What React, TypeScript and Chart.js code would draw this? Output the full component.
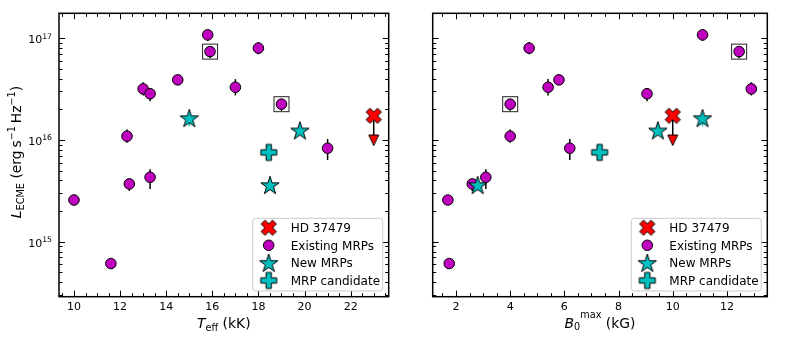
import React, { useEffect, useRef } from "react";
import { Chart, registerables } from "chart.js";

Chart.register(...registerables);

// ---------- data ----------
const TEFF_TICKS = [10, 12, 14, 16, 18, 20, 22];
const B_TICKS = [2, 4, 6, 8, 10, 12];
const LOG_DECADES = [15, 16, 17];

const EXIST_TEFF = [15.8, 15.9, 18.0, 13.0, 13.3, 14.5, 17.0, 19.0, 12.3, 21.0, 13.3, 12.4, 10.0, 11.6];
const EXIST_B = [11.1, 12.45, 4.7, 12.9, 9.05, 5.8, 5.4, 4.0, 4.0, 6.2, 3.1, 2.6, 1.7, 1.75];
const EXIST_L = [1.08e17, 7.4e16, 8.0e16, 3.18e16, 2.85e16, 3.9e16, 3.3e16, 2.25e16, 1.09e16, 8.3e15, 4.3e15, 3.7e15, 2.57e15, 6.1e14];
const EXIST_ERR_LO = [0.06, 0.065, 0.06, 0.065, 0.075, 0.03, 0.08, 0.065, 0.065, 0.115, 0.115, 0.07, 0, 0];
const EXIST_ERR_HI = [0.05, 0.05, 0.06, 0.065, 0.05, 0.03, 0.08, 0.05, 0.065, 0.09, 0.08, 0.05, 0, 0];
const BOXED = [1, 7];

const NEW_TEFF = [15.0, 19.8, 18.5];
const NEW_B = [11.1, 9.45, 2.8];
const NEW_L = [1.64e16, 1.24e16, 3.6e15];
const NEW_ERR_LO = [0.08, 0, 0];

const CAND_TEFF = [18.45];
const CAND_B = [7.3];
const CAND_L = [7.55e15];

const HD_TEFF = [23.0];
const HD_B = [10.0];
const HD_L = [1.73e16];
const HD_LIMIT = [1.0e16];

const LEGEND_LABELS = ["HD 37479", "Existing MRPs", "New MRPs", "MRP candidate"];

const Y_MIN = 2.88e14;
const Y_MAX = 1.76e17;

// ---------- styles ----------
const MAGENTA = "#bf00bf";
const CYAN = "#00bfbf";
const RED = "#ff0000";
const FONT = '"DejaVu Sans", sans-serif';

function mk(size: number, draw: (c: CanvasRenderingContext2D, m: number) => void) {
  const cv = document.createElement("canvas");
  cv.width = size;
  cv.height = size;
  const c = cv.getContext("2d")!;
  draw(c, size / 2);
  return cv;
}

function poly(c: CanvasRenderingContext2D, pts: number[][], m: number, s: number) {
  c.beginPath();
  pts.forEach((p, i) => {
    const x = m + p[0] * s;
    const y = m - p[1] * s;
    if (i === 0) c.moveTo(x, y);
    else c.lineTo(x, y);
  });
  c.closePath();
}

const starImg = mk(26, (c, m) => {
  const R = 9.6;
  const r = R * 0.381966;
  c.beginPath();
  for (let i = 0; i < 10; i++) {
    const a = -Math.PI / 2 + (i * Math.PI) / 5;
    const rr = i % 2 ? r : R;
    c.lineTo(m + rr * Math.cos(a), m + 0.8 + rr * Math.sin(a));
  }
  c.closePath();
  c.fillStyle = CYAN;
  c.fill();
  c.lineWidth = 1;
  c.strokeStyle = "#000";
  c.stroke();
});

const plusImg = mk(22, (c, m) => {
  poly(
    c,
    [[-1, -3], [1, -3], [1, -1], [3, -1], [3, 1], [1, 1], [1, 3], [-1, 3], [-1, 1], [-3, 1], [-3, -1], [-1, -1]],
    m,
    8 / 3
  );
  c.fillStyle = CYAN;
  c.fill();
  c.lineWidth = 1;
  c.strokeStyle = "#000";
  c.stroke();
});

const xImg = mk(22, (c, m) => {
  poly(
    c,
    [[-1, -2], [0, -1], [1, -2], [2, -1], [1, 0], [2, 1], [1, 2], [0, 1], [-1, 2], [-2, 1], [-1, 0], [-2, -1]],
    m,
    7.6 / 2
  );
  c.fillStyle = RED;
  c.fill();
  c.lineWidth = 1;
  c.strokeStyle = "#000";
  c.stroke();
});

const triImg = mk(16, (c, m) => {
  c.beginPath();
  c.moveTo(m, m + 5.5);
  c.lineTo(m - 5, m - 5);
  c.lineTo(m + 5, m - 5);
  c.closePath();
  c.fillStyle = RED;
  c.fill();
  c.lineWidth = 1;
  c.strokeStyle = "#000";
  c.stroke();
});

const boxImg = mk(20, (c, m) => {
  c.lineWidth = 1;
  c.strokeStyle = "#222";
  c.strokeRect(m - 7.5, m - 7.5, 15, 15);
});

type Part = { t: string; size: number; italic?: boolean; dy: number };

function drawParts(ctx: CanvasRenderingContext2D, parts: Part[], cx: number, baseY: number) {
  const font = (p: Part) => `${p.italic ? "italic " : ""}${p.size}px ${FONT}`;
  let total = 0;
  const ws = parts.map((p) => {
    ctx.font = font(p);
    const w = ctx.measureText(p.t).width;
    total += w;
    return w;
  });
  let x = cx - total / 2;
  ctx.textAlign = "left";
  ctx.textBaseline = "alphabetic";
  parts.forEach((p, i) => {
    ctx.font = font(p);
    ctx.fillText(p.t, x, baseY + p.dy);
    x += ws[i];
  });
}

function buildConfig(panel: "teff" | "b") {
  const isT = panel === "teff";
  const xv = isT
    ? { exist: EXIST_TEFF, nw: NEW_TEFF, cand: CAND_TEFF, hd: HD_TEFF }
    : { exist: EXIST_B, nw: NEW_B, cand: CAND_B, hd: HD_B };
  const ticks = isT ? TEFF_TICKS : B_TICKS;

  const existPts = xv.exist.map((x, i) => ({ x, y: EXIST_L[i] }));
  const newPts = xv.nw.map((x, i) => ({ x, y: NEW_L[i] }));
  const candPts = xv.cand.map((x, i) => ({ x, y: CAND_L[i] }));
  const hdPts = xv.hd.map((x, i) => ({ x, y: HD_L[i] }));
  const boxPts = BOXED.map((i) => ({ x: xv.exist[i], y: EXIST_L[i] }));

  const decor = {
    id: "decor",
    beforeDatasetsDraw(chart: any) {
      const ctx = chart.ctx as CanvasRenderingContext2D;
      const xs = chart.scales.x;
      const ys = chart.scales.y;
      ctx.save();
      ctx.lineWidth = 1.5;
      ctx.strokeStyle = "#000";
      xv.exist.forEach((x, i) => {
        const lo = EXIST_ERR_LO[i];
        const hi = EXIST_ERR_HI[i];
        if (!lo && !hi) return;
        const px = xs.getPixelForValue(x);
        ctx.beginPath();
        ctx.moveTo(px, ys.getPixelForValue(EXIST_L[i] * Math.pow(10, -lo)));
        ctx.lineTo(px, ys.getPixelForValue(EXIST_L[i] * Math.pow(10, hi)));
        ctx.stroke();
      });
      ctx.strokeStyle = CYAN;
      xv.nw.forEach((x, i) => {
        const lo = NEW_ERR_LO[i];
        if (!lo) return;
        const px = xs.getPixelForValue(x);
        ctx.beginPath();
        ctx.moveTo(px, ys.getPixelForValue(NEW_L[i] * Math.pow(10, -lo)));
        ctx.lineTo(px, ys.getPixelForValue(NEW_L[i]));
        ctx.stroke();
      });
      ctx.strokeStyle = "#000";
      xv.hd.forEach((x, i) => {
        const px = xs.getPixelForValue(x);
        const y0 = ys.getPixelForValue(HD_L[i]);
        const y1 = ys.getPixelForValue(HD_LIMIT[i]);
        ctx.beginPath();
        ctx.moveTo(px, y0);
        ctx.lineTo(px, y1);
        ctx.stroke();
        ctx.drawImage(triImg, px - triImg.width / 2, y1 - triImg.height / 2);
      });
      ctx.restore();
    },
    afterDraw(chart: any) {
      const ctx = chart.ctx as CanvasRenderingContext2D;
      const { left, right, top, bottom } = chart.chartArea;
      const xs = chart.scales.x;
      const ys = chart.scales.y;
      ctx.save();
      ctx.strokeStyle = "#000";
      ctx.lineWidth = 1;
      const majorSet = new Set(ticks);
      for (let k = Math.ceil(xs.min * 2); k <= Math.floor(xs.max * 2); k++) {
        const v = k / 2;
        const major = majorSet.has(v);
        const len = major ? 6 : 3.5;
        const px = Math.round(xs.getPixelForValue(v)) + 0.5;
        ctx.beginPath();
        ctx.moveTo(px, bottom);
        ctx.lineTo(px, bottom - len);
        ctx.moveTo(px, top);
        ctx.lineTo(px, top + len);
        ctx.stroke();
      }
      for (let d = 14; d <= 17; d++) {
        for (let m = 1; m <= 9; m++) {
          const v = m * Math.pow(10, d);
          if (v < ys.min || v > ys.max) continue;
          const len = m === 1 ? 6 : 3.5;
          const py = Math.round(ys.getPixelForValue(v)) + 0.5;
          ctx.beginPath();
          ctx.moveTo(left, py);
          ctx.lineTo(left + len, py);
          ctx.moveTo(right, py);
          ctx.lineTo(right - len, py);
          ctx.stroke();
        }
      }
      ctx.lineWidth = 1.5;
      ctx.strokeRect(left, top, right - left, bottom - top);

      ctx.fillStyle = "#000";
      ctx.font = `11px ${FONT}`;
      ctx.textAlign = "center";
      ctx.textBaseline = "alphabetic";
      ticks.forEach((v) => {
        ctx.fillText(String(v), xs.getPixelForValue(v), bottom + 13.3);
      });

      if (isT) {
        LOG_DECADES.forEach((d) => {
          const py = ys.getPixelForValue(Math.pow(10, d));
          ctx.font = `11px ${FONT}`;
          const w10 = ctx.measureText("10").width;
          ctx.font = `7.7px ${FONT}`;
          const ws = ctx.measureText(String(d)).width;
          const x0 = left - 7 - w10 - ws;
          ctx.textAlign = "left";
          ctx.font = `11px ${FONT}`;
          ctx.fillText("10", x0, py + 5);
          ctx.font = `7.7px ${FONT}`;
          ctx.fillText(String(d), x0 + w10, py + 0.5);
        });
        drawParts(
          ctx,
          [
            { t: "T", size: 13.9, italic: true, dy: 0 },
            { t: "eff", size: 9.7, dy: 3 },
            { t: " (kK)", size: 13.9, dy: 0 },
          ],
          (left + right) / 2,
          bottom + 30.8
        );
        ctx.save();
        ctx.translate(20.5, 152);
        ctx.rotate(-Math.PI / 2);
        drawParts(
          ctx,
          [
            { t: "L", size: 13.9, italic: true, dy: 0 },
            { t: "ECME", size: 9.7, dy: 3 },
            { t: " (erg\u2009s", size: 13.9, dy: 0 },
            { t: "\u22121", size: 9.7, dy: -5.5 },
            { t: "\u2009Hz", size: 13.9, dy: 0 },
            { t: "\u22121", size: 9.7, dy: -5.5 },
            { t: ")", size: 13.9, dy: 0 },
          ],
          0,
          0
        );
        ctx.restore();
      } else {
        drawParts(
          ctx,
          [
            { t: "B", size: 13.9, italic: true, dy: 0 },
            { t: "0", size: 9.7, dy: 2.5 },
            { t: "max", size: 9.7, dy: -9.5 },
            { t: " (kG)", size: 13.9, dy: 0 },
          ],
          (left + right) / 2,
          bottom + 31.2
        );
      }

      // legend
      const bw = 130;
      const bh = 72.7;
      const bx = right - 6 - bw;
      const by = bottom - 5.7 - bh;
      ctx.beginPath();
      (ctx as any).roundRect(bx, by, bw, bh, 3);
      ctx.fillStyle = "rgba(255,255,255,0.8)";
      ctx.fill();
      ctx.lineWidth = 1;
      ctx.strokeStyle = "#cccccc";
      ctx.stroke();
      const mx = bx + 16;
      LEGEND_LABELS.forEach((label, i) => {
        const ry = by + 9.4 + i * 17.6;
        if (i === 0) ctx.drawImage(xImg, mx - xImg.width / 2, ry - xImg.height / 2);
        if (i === 1) {
          ctx.beginPath();
          ctx.arc(mx, ry, 5.3, 0, Math.PI * 2);
          ctx.fillStyle = MAGENTA;
          ctx.fill();
          ctx.strokeStyle = "#000";
          ctx.lineWidth = 1;
          ctx.stroke();
        }
        if (i === 2) ctx.drawImage(starImg, mx - starImg.width / 2, ry - starImg.height / 2);
        if (i === 3) ctx.drawImage(plusImg, mx - plusImg.width / 2, ry - plusImg.height / 2);
        ctx.fillStyle = "#000";
        ctx.font = `12px ${FONT}`;
        ctx.textAlign = "left";
        ctx.textBaseline = "alphabetic";
        ctx.fillText(label, bx + 38, ry + 4.3);
      });
      ctx.restore();
    },
  };

  const padding = isT
    ? { left: 59, right: 2.3, top: 13.3, bottom: 53.3 }
    : { left: 37.7, right: 21.7, top: 13.3, bottom: 53.3 };

  return {
    type: "scatter" as const,
    data: {
      datasets: [
        { label: "HD 37479", data: hdPts, pointStyle: xImg, order: 0 },
        { label: "New MRPs", data: newPts, pointStyle: starImg, order: 1 },
        { label: "MRP candidate", data: candPts, pointStyle: plusImg, order: 2 },
        {
          label: "Existing MRPs",
          data: existPts,
          pointStyle: "circle",
          radius: 5.3,
          backgroundColor: MAGENTA,
          borderColor: "#000",
          borderWidth: 1,
          order: 3,
        },
        { label: "boxed", data: boxPts, pointStyle: boxImg, order: 4 },
      ],
    },
    options: {
      animation: false,
      responsive: false,
      maintainAspectRatio: false,
      events: [],
      layout: { padding },
      plugins: { legend: { display: false }, tooltip: { enabled: false } },
      scales: {
        x: {
          type: "linear",
          display: false,
          min: isT ? 9.35 : 1.14,
          max: isT ? 23.65 : 13.49,
        },
        y: { type: "logarithmic", display: false, min: Y_MIN, max: Y_MAX },
      },
    },
    plugins: [decor],
  };
}

function Panel({ panel, left, width }: { panel: "teff" | "b"; left: number; width: number }) {
  const ref = useRef<HTMLCanvasElement>(null);
  useEffect(() => {
    const chart = new Chart(ref.current!, buildConfig(panel) as any);
    return () => chart.destroy();
  }, [panel]);
  return (
    <canvas
      ref={ref}
      width={width}
      height={350}
      style={{ position: "absolute", left, top: 0, width, height: 350 }}
    />
  );
}

export default function App() {
  return (
    <div style={{ position: "absolute", left: 0, top: 0, width: 789, height: 350, background: "#fff" }}>
      <Panel panel="teff" left={0} width={395} />
      <Panel panel="b" left={395} width={394} />
    </div>
  );
}
